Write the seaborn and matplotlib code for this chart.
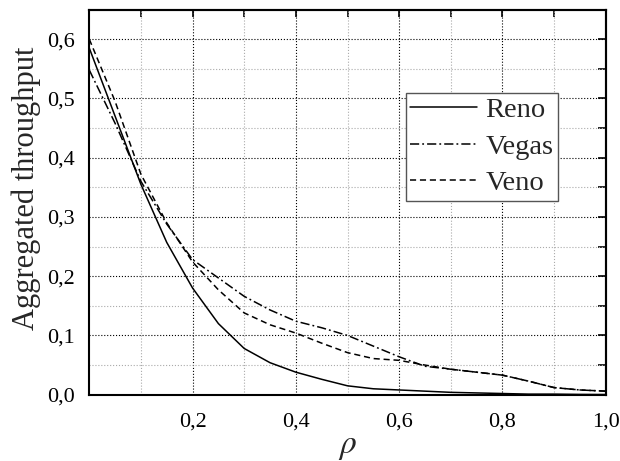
import numpy as np
import pandas as pd
import matplotlib
matplotlib.use('Agg')
import matplotlib.pyplot as plt
import seaborn as sns
from matplotlib.ticker import MultipleLocator, FixedLocator, FuncFormatter, NullFormatter

# --- data ---
rho = [0.00, 0.05, 0.10, 0.15, 0.20, 0.25, 0.30, 0.35, 0.40, 0.45, 0.50,
       0.55, 0.60, 0.65, 0.70, 0.75, 0.80, 0.85, 0.90, 0.95, 1.00]
reno = [0.585, 0.470, 0.355, 0.257, 0.180, 0.120, 0.078, 0.054, 0.038, 0.026, 0.015,
        0.010, 0.008, 0.006, 0.004, 0.003, 0.002, 0.001, 0.001, 0.0005, 0.0003]
vegas = [0.548, 0.458, 0.360, 0.288, 0.228, 0.197, 0.166, 0.143, 0.124, 0.113, 0.100,
         0.082, 0.064, 0.048, 0.043, 0.038, 0.033, 0.023, 0.012, 0.008, 0.006]
veno = [0.600, 0.495, 0.372, 0.290, 0.224, 0.177, 0.138, 0.118, 0.104, 0.087, 0.071,
        0.061, 0.058, 0.050, 0.043, 0.038, 0.033, 0.023, 0.012, 0.008, 0.006]
protocols = ['Reno', 'Vegas', 'Veno']

df = pd.DataFrame({
    'rho': rho * 3,
    'throughput': reno + vegas + veno,
    'protocol': np.repeat(protocols, len(rho)),
})

# --- style ---
sns.set_style('white')
plt.rcParams['font.family'] = ['Liberation Serif', 'DejaVu Serif']
plt.rcParams['mathtext.fontset'] = 'stix'

fig = plt.figure(figsize=(6.2, 4.61), dpi=100)
ax = fig.add_axes([0.144, 0.1438, 0.833, 0.8355])

sns.lineplot(data=df, x='rho', y='throughput', hue='protocol', style='protocol',
             palette={p: 'black' for p in protocols},
             dashes={'Reno': '', 'Vegas': (6, 2, 1.2, 2), 'Veno': (4, 2.5)},
             linewidth=1.1, ax=ax)

ax.set_xlim(0, 1.0)
ax.set_ylim(0, 0.65)

comma = FuncFormatter(lambda v, p: f'{v:.1f}'.replace('.', ','))
ax.xaxis.set_major_locator(FixedLocator([0.2, 0.4, 0.6, 0.8, 1.0]))
ax.xaxis.set_minor_locator(FixedLocator([0.1, 0.3, 0.5, 0.7, 0.9]))
ax.yaxis.set_major_locator(MultipleLocator(0.1))
ax.yaxis.set_minor_locator(FixedLocator([0.05, 0.15, 0.25, 0.35, 0.45, 0.55]))
ax.xaxis.set_major_formatter(comma)
ax.yaxis.set_major_formatter(comma)

ax.grid(which='major', color='black', linestyle=':', linewidth=0.8)
ax.grid(which='minor', color='#aaaaaa', linestyle=':', linewidth=0.8)

ax.tick_params(which='major', direction='out', length=8, width=1.2, labelsize=16,
               top=False, right=False, colors='black')
ax.tick_params(which='minor', direction='out', length=4, width=1.2,
               top=False, right=False, colors='black')
ax.tick_params(axis='x', which='major', pad=5)
ax.tick_params(axis='y', which='major', pad=2.5)

for s in ax.spines.values():
    s.set_color('black')
    s.set_linewidth(1.5)

# inward ticks on top and right
secx = ax.secondary_xaxis('top')
secx.xaxis.set_major_locator(FixedLocator(np.round(np.arange(0.1, 1.01, 0.1), 2)))
secx.xaxis.set_major_formatter(NullFormatter())
secx.tick_params(direction='in', length=5, width=1.2, colors='black')
secx.spines['top'].set_linewidth(1.5)
secy = ax.secondary_yaxis('right')
secy.yaxis.set_major_locator(FixedLocator(np.round(np.arange(0.05, 0.651, 0.05), 2)))
secy.yaxis.set_major_formatter(NullFormatter())
secy.tick_params(direction='in', length=6, width=1.2, colors='black')
secy.spines['right'].set_linewidth(1.5)

ax.set_xlabel(r'$\rho$', fontsize=24, labelpad=0)
ax.set_ylabel('Aggregated throughput', fontsize=22)
ax.yaxis.set_label_coords(-0.094, 0.537)

handles, labels = ax.get_legend_handles_labels()
leg = ax.legend(handles, labels, loc='upper left', bbox_to_anchor=(0.613, 0.784),
                frameon=True, fancybox=False, edgecolor='#555555', framealpha=1,
                fontsize=20.5, handlelength=2.35, handletextpad=0.3,
                labelspacing=0.38, borderpad=0.15, borderaxespad=0)
leg.get_frame().set_linewidth(1.0)

fig.savefig('out.png', dpi=100)
